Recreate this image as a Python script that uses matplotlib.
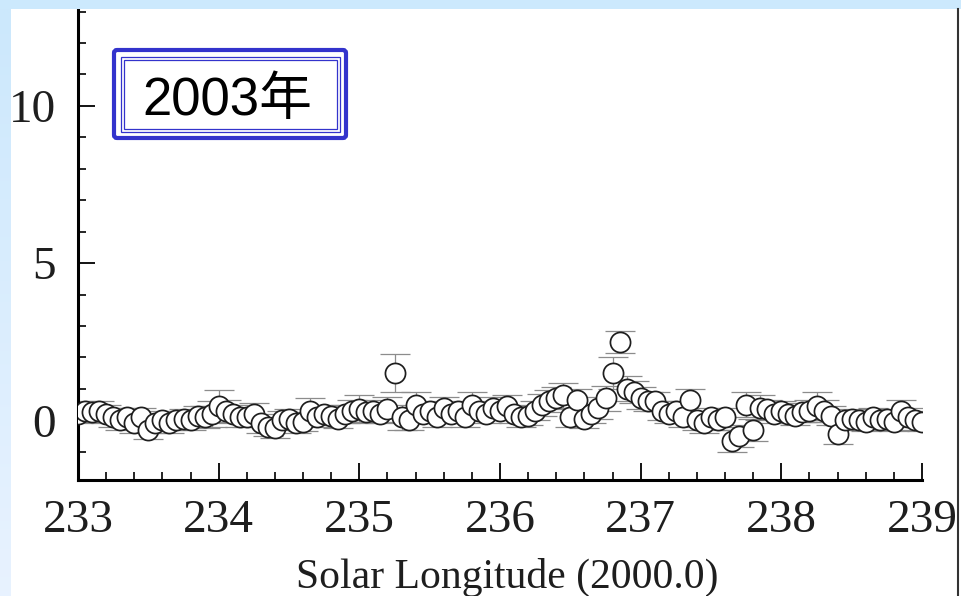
import numpy as np
import matplotlib
matplotlib.use("Agg")
import matplotlib.pyplot as plt
from matplotlib.patches import Rectangle, FancyBboxPatch
from matplotlib.ticker import MultipleLocator

# solar longitude (deg, J2000.0)
lon = [233.00, 233.05, 233.10, 233.15, 233.20, 233.25, 233.30, 233.35, 233.40, 233.45,
       233.50, 233.55, 233.60, 233.65, 233.70, 233.75, 233.80, 233.85, 233.90, 233.95,
       234.00, 234.05, 234.10, 234.15, 234.20, 234.25, 234.30, 234.35, 234.40, 234.45,
       234.50, 234.55, 234.60, 234.65, 234.70, 234.75, 234.80, 234.85, 234.90, 234.95,
       235.00, 235.05, 235.10, 235.15, 235.20, 235.25, 235.30, 235.35, 235.40, 235.45,
       235.50, 235.55, 235.60, 235.65, 235.70, 235.75, 235.80, 235.85, 235.90, 235.95,
       236.00, 236.05, 236.10, 236.15, 236.20, 236.25, 236.30, 236.35, 236.40, 236.45,
       236.50, 236.55, 236.60, 236.65, 236.70, 236.75, 236.80, 236.85, 236.90, 236.95,
       237.00, 237.05, 237.10, 237.15, 237.20, 237.25, 237.30, 237.35, 237.40, 237.45,
       237.50, 237.55, 237.60, 237.65, 237.70, 237.75, 237.80, 237.85, 237.90, 237.95,
       238.00, 238.05, 238.10, 238.15, 238.20, 238.25, 238.30, 238.35, 238.40, 238.45,
       238.50, 238.55, 238.60, 238.65, 238.70, 238.75, 238.80, 238.85, 238.90, 238.95,
       239.00]

rate = [0.20, 0.30, 0.25, 0.30, 0.20, 0.10, 0.00, 0.10, -0.10, 0.10,
        -0.30, -0.10, 0.00, -0.10, 0.00, 0.05, 0.00, 0.15, 0.10, 0.20,
        0.45, 0.30, 0.20, 0.10, 0.10, 0.20, -0.10, -0.20, -0.25, 0.00,
        0.05, -0.10, -0.05, 0.30, 0.10, 0.20, 0.15, 0.05, 0.20, 0.30,
        0.35, 0.25, 0.30, 0.20, 0.35, 1.50, 0.10, 0.00, 0.50, 0.20,
        0.30, 0.10, 0.40, 0.20, 0.30, 0.10, 0.50, 0.30, 0.20, 0.40,
        0.30, 0.45, 0.20, 0.10, 0.15, 0.30, 0.50, 0.60, 0.70, 0.80,
        0.10, 0.65, 0.05, 0.20, 0.40, 0.70, 1.50, 2.50, 1.00, 0.90,
        0.70, 0.60, 0.60, 0.30, 0.20, 0.30, 0.10, 0.65, 0.00, -0.10,
        0.10, 0.00, 0.10, -0.65, -0.50, 0.50, -0.30, 0.40, 0.35, 0.20,
        0.30, 0.20, 0.15, 0.25, 0.30, 0.45, 0.30, 0.15, -0.45, 0.00,
        0.05, 0.00, -0.05, 0.10, 0.00, 0.05, -0.05, 0.30, 0.10, 0.00,
        -0.05]

err = [0.30, 0.30, 0.30, 0.30, 0.30, 0.30, 0.30, 0.30, 0.30, 0.30,
       0.30, 0.30, 0.30, 0.30, 0.30, 0.30, 0.30, 0.30, 0.35, 0.40,
       0.50, 0.35, 0.30, 0.30, 0.30, 0.35, 0.30, 0.30, 0.30, 0.30,
       0.30, 0.30, 0.30, 0.40, 0.30, 0.30, 0.30, 0.30, 0.30, 0.35,
       0.45, 0.30, 0.35, 0.30, 0.40, 0.60, 0.40, 0.30, 0.40, 0.30,
       0.30, 0.30, 0.35, 0.30, 0.30, 0.30, 0.40, 0.30, 0.30, 0.35,
       0.30, 0.35, 0.30, 0.30, 0.30, 0.30, 0.35, 0.35, 0.35, 0.40,
       0.30, 0.35, 0.30, 0.30, 0.35, 0.40, 0.50, 0.35, 0.40, 0.35,
       0.35, 0.30, 0.30, 0.30, 0.30, 0.30, 0.30, 0.35, 0.30, 0.30,
       0.30, 0.30, 0.30, 0.35, 0.35, 0.40, 0.35, 0.40, 0.30, 0.30,
       0.30, 0.30, 0.30, 0.30, 0.35, 0.45, 0.35, 0.30, 0.30, 0.30,
       0.30, 0.30, 0.30, 0.30, 0.30, 0.30, 0.30, 0.35, 0.30, 0.30,
       0.30]

x_ticks = [233, 234, 235, 236, 237, 238, 239]
y_ticks = [0, 5, 10]
year_label = "2003年"

W, H = 961, 596
fig = plt.figure(figsize=(W / 100, H / 100), dpi=100)
fig.patch.set_facecolor("white")

# main panel
ax = fig.add_axes([78 / W, 1 - 480 / H, (922 - 78) / W, (480 - 10) / H])
ax.set_facecolor("none")
ax.errorbar(lon, rate, yerr=err, fmt="none", ecolor="#8c8c8c",
            elinewidth=0.9, capsize=10.5, capthick=0.9, zorder=1)
ax.plot(lon, rate, "o", ms=14.5, mfc="white", mec="#1e1e1e", mew=1.25,
        ls="none", zorder=3)

ax.set_xlim(233, 239)
ax.set_ylim(-1.9, 13.05)
ax.set_xticks(x_ticks)
ax.set_yticks(y_ticks)
ax.xaxis.set_minor_locator(MultipleLocator(0.2))
ax.yaxis.set_minor_locator(MultipleLocator(1))
for s in ["top", "right"]:
    ax.spines[s].set_visible(False)
for s in ["left", "bottom"]:
    ax.spines[s].set_linewidth(2.2)
ax.tick_params(which="both", direction="in", top=False, right=False)
ax.tick_params(which="major", length=12, width=1.3)
ax.tick_params(which="minor", length=5.5, width=1.2)
ax.tick_params(axis="x", which="major", pad=14)
ax.tick_params(axis="y", which="major", pad=16)
for lab in ax.get_xticklabels() + ax.get_yticklabels():
    lab.set_fontfamily("Liberation Serif")
    lab.set_fontsize(34)
    lab.set_color("#1e1e1e")

ax.set_xlabel("Solar Longitude (2000.0)", fontsize=30,
              family="Liberation Serif", color="#1e1e1e", va="baseline")
ax.xaxis.set_label_coords(0.508, -0.2298)

# overlay in pixel coordinates for the page decoration and year box
ov = fig.add_axes([0, 0, 1, 1], zorder=5)
ov.set_xlim(0, W)
ov.set_ylim(H, 0)
ov.axis("off")
ov.patch.set_alpha(0)

ov.add_patch(Rectangle((0, 0), W, 9, fc="#CCE9FD", ec="none"))
grad = np.linspace(0, 1, 64)[:, None, None]
top_c = np.array([0.80, 0.91, 0.99])
bot_c = np.array([0.91, 0.95, 1.00])
band = top_c + (bot_c - top_c) * grad
ov.imshow(np.repeat(band, 2, axis=1), extent=(0, 11, H, 9), aspect="auto",
          interpolation="bilinear")
ov.plot([958, 958], [9, H], color="#333333", lw=1.5)
ov.set_xlim(0, W)
ov.set_ylim(H, 0)

blue = "#3333CC"
ov.add_patch(FancyBboxPatch((114, 50), 232, 88,
                            boxstyle="round,pad=0,rounding_size=3",
                            fc="white", ec=blue, lw=3.0))
ov.add_patch(Rectangle((121, 57), 219, 75, fc="none", ec=blue, lw=0.9))
ov.add_patch(Rectangle((124, 60), 213, 69, fc="none", ec=blue, lw=0.9))
ov.text(142, 115, year_label, fontsize=38, color="black",
        family=["Liberation Sans", "Noto Sans CJK SC"],
        ha="left", va="baseline")

fig.savefig("out.png", dpi=100)
